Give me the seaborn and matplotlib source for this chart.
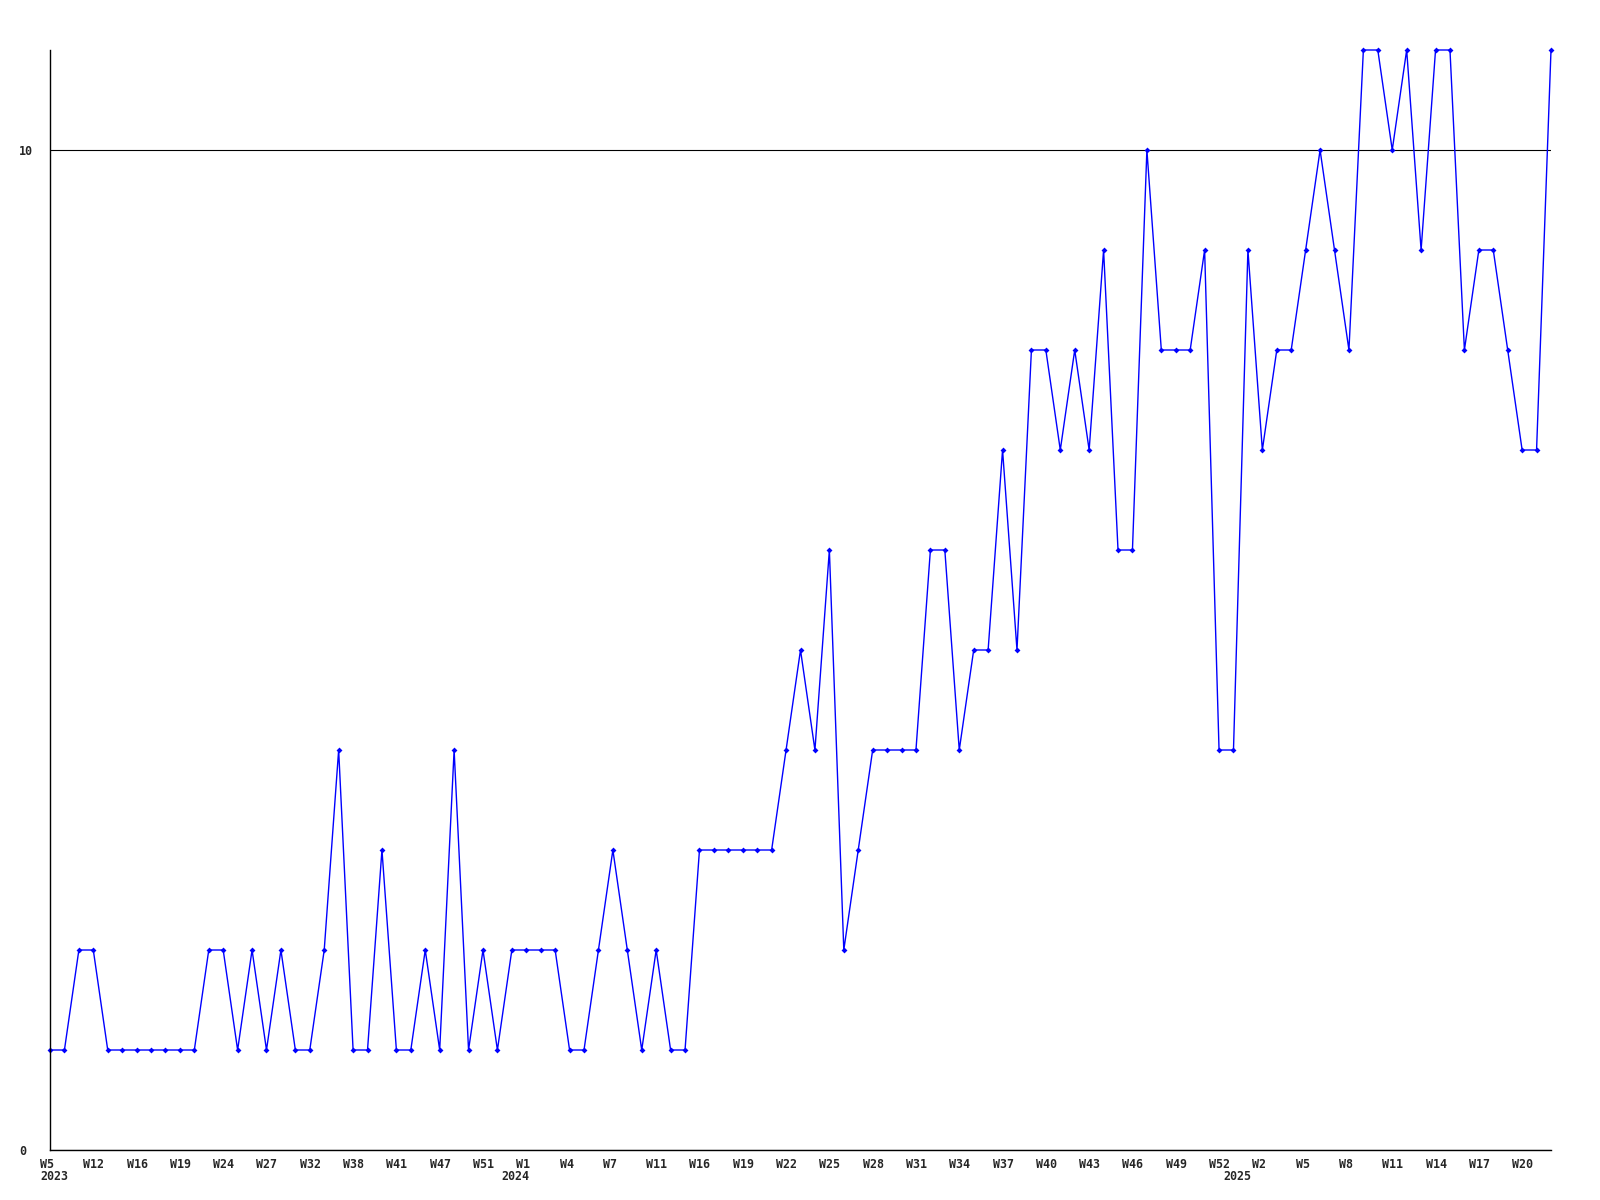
import pandas as pd
import matplotlib
matplotlib.use('Agg')
import matplotlib.pyplot as plt
import matplotlib.transforms as mtransforms
import seaborn as sns

# weekly counts, one entry per point from left to right
counts = [1, 1, 2, 2, 1, 1, 1, 1, 1, 1, 1, 2, 2, 1, 2, 1, 2, 1, 1, 2,
          4, 1, 1, 3, 1, 1, 2, 1, 4, 1, 2, 1, 2, 2, 2, 2, 1, 1, 2, 3,
          2, 1, 2, 1, 1, 3, 3, 3, 3, 3, 3, 4, 5, 4, 6, 2, 3, 4, 4, 4,
          4, 6, 6, 4, 5, 5, 7, 5, 8, 8, 7, 8, 7, 9, 6, 6, 10, 8, 8, 8,
          9, 4, 4, 9, 7, 8, 8, 9, 10, 9, 8, 11, 11, 10, 11, 9, 11, 11, 8, 9,
          9, 8, 7, 7, 11]

# tick labels, one every third point
week_labels = ['W5', 'W12', 'W16', 'W19', 'W24', 'W27', 'W32', 'W38', 'W41', 'W47', 'W51',
               'W1', 'W4', 'W7', 'W11', 'W16', 'W19', 'W22', 'W25', 'W28', 'W31', 'W34',
               'W37', 'W40', 'W43', 'W46', 'W49', 'W52',
               'W2', 'W5', 'W8', 'W11', 'W14', 'W17', 'W20']
year_labels = ['2023', '2024', '2025']
year_pos = [0, 32, 82]

df = pd.DataFrame({'idx': range(len(counts)), 'count': counts})

sns.set_style('white')
plt.rcParams['font.family'] = ['DejaVu Sans Mono', 'DejaVu Sans']

fig = plt.figure(figsize=(16, 12), dpi=100)
ax = fig.add_axes([50 / 1600, 50 / 1200, 1501 / 1600, 1100 / 1200])

sns.lineplot(data=df, x='idx', y='count', ax=ax, color='#0000ff', linewidth=1.0,
             marker='D', markersize=3, markeredgewidth=0, clip_on=False)

ax.set_xlim(0, len(counts) - 1)
ax.set_ylim(0, 11)

ax.set_yticks([0, 10])
ax.set_yticklabels(['0', '10'], fontsize=8.4, fontweight='bold', ha='left')
ax.tick_params(axis='y', length=0, pad=22.3)
ax.yaxis.grid(True, color='black', linewidth=0.8)
ax.set_axisbelow(True)

ticks = list(range(0, len(counts), 3))
ax.set_xticks(ticks)
ax.set_xticklabels(week_labels, fontsize=8.4, fontweight='bold', ha='left')
ax.tick_params(axis='x', length=0, pad=6)
shift = mtransforms.ScaledTranslation(-10 / 100, 0, fig.dpi_scale_trans)
for lab in ax.get_xticklabels():
    lab.set_transform(lab.get_transform() + shift)

trans = mtransforms.blended_transform_factory(ax.transData, ax.transAxes) + shift
for pos, yr in zip(year_pos, year_labels):
    ax.text(pos, -0.0185, yr, transform=trans, fontsize=8.4, fontweight='bold',
            ha='left', va='top')

for side in ['top', 'right']:
    ax.spines[side].set_visible(False)
for side in ['left', 'bottom']:
    ax.spines[side].set_color('black')
    ax.spines[side].set_linewidth(1.0)

ax.set_xlabel('')
ax.set_ylabel('')

fig.savefig('out.png', dpi=100)
